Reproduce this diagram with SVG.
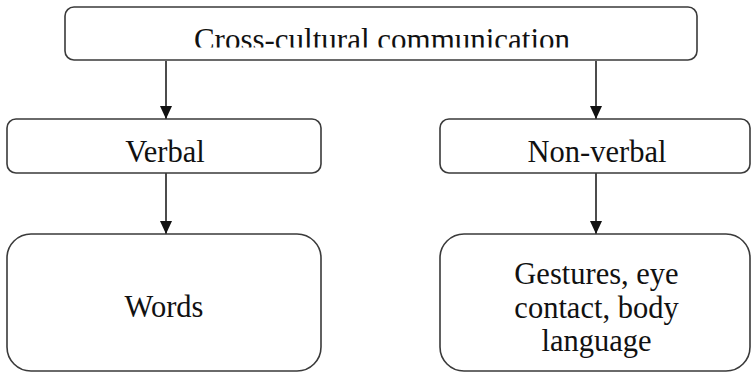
<svg xmlns="http://www.w3.org/2000/svg" width="751" height="373" viewBox="0 0 751 373">
  <style>
    .box { fill: #ffffff; stroke: #3a3a3a; stroke-width: 1.6; }
    .lbl { font-family: "Liberation Serif", "Times New Roman", serif; font-size: 30.5px; fill: #111111; text-anchor: middle; }
    .edge { stroke: #111111; stroke-width: 1.5; fill: none; marker-end: url(#arrow); }
  </style>
  <defs>
    <marker id="arrow" markerWidth="13" markerHeight="12" refX="13" refY="6" orient="auto" markerUnits="userSpaceOnUse" viewBox="0 0 13 12">
      <path d="M0,0 L13,6 L0,12 Z" fill="#111111"/>
    </marker>
    <clipPath id="topclip">
      <rect x="66" y="8" width="630" height="39.5"/>
    </clipPath>
  </defs>
  <rect width="751" height="373" fill="#ffffff"/>

  <g id="connectors">
    <line class="edge" x1="166" y1="61" x2="166" y2="119"/>
    <line class="edge" x1="596" y1="61" x2="596" y2="119"/>
    <line class="edge" x1="166" y1="173" x2="166" y2="234"/>
    <line class="edge" x1="596" y1="173" x2="596" y2="234"/>
  </g>

  <g id="node-cross-cultural">
    <rect class="box" x="65" y="7" width="632" height="53" rx="9"/>
    <text class="lbl" x="382" y="49.5" style="font-size:31px" clip-path="url(#topclip)">Cross-cultural communication</text>
  </g>

  <g id="node-verbal">
    <rect class="box" x="7" y="119" width="314" height="54" rx="9"/>
    <text class="lbl" x="165" y="161.5">Verbal</text>
  </g>

  <g id="node-nonverbal">
    <rect class="box" x="440" y="119" width="310" height="54" rx="9"/>
    <text class="lbl" x="597" y="161.5">Non-verbal</text>
  </g>

  <g id="node-words">
    <rect class="box" x="7" y="234" width="314" height="137" rx="24"/>
    <text class="lbl" x="164" y="317">Words</text>
  </g>

  <g id="node-gestures">
    <rect class="box" x="440" y="234" width="310" height="137" rx="24"/>
    <text class="lbl" x="596.5" y="283.5">Gestures, eye</text>
    <text class="lbl" x="596.5" y="317.5">contact, body</text>
    <text class="lbl" x="596.5" y="351">language</text>
  </g>
</svg>
